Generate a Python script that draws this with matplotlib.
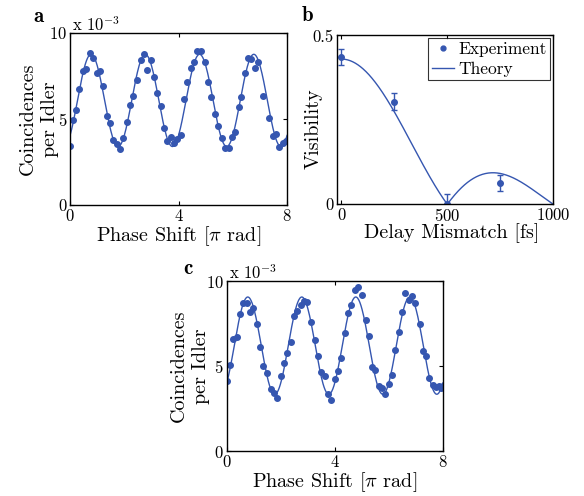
import numpy as np
import matplotlib
matplotlib.use("Agg")
import matplotlib.pyplot as plt
from matplotlib.lines import Line2D

# -------------------------------
# data
# -------------------------------
# panel a : coincidences per idler (x 1e-3) vs phase shift [pi rad]
phase_a = [0.00, 0.10, 0.22, 0.34, 0.47, 0.59, 0.74, 0.86, 0.98, 1.11, 1.20, 1.35,
           1.47, 1.60, 1.72, 1.84, 1.97, 2.09, 2.21, 2.34, 2.46, 2.61, 2.73, 2.83,
           2.97, 3.10, 3.22, 3.34, 3.47, 3.59, 3.71, 3.83, 3.96, 4.08, 4.20, 4.33,
           4.45, 4.57, 4.69, 4.84, 4.96, 5.09, 5.21, 5.33, 5.46, 5.60, 5.70, 5.85,
           5.97, 6.09, 6.22, 6.32, 6.44, 6.56, 6.69, 6.81, 6.93, 7.10, 7.32, 7.47,
           7.59, 7.72, 7.84, 7.96]
coinc_a = [3.44, 4.92, 5.51, 6.75, 7.78, 7.91, 8.82, 8.52, 7.68, 7.80, 6.93, 5.16,
           4.76, 3.78, 3.52, 3.25, 3.88, 4.80, 5.81, 6.34, 7.24, 8.43, 8.80, 7.87,
           8.41, 7.42, 6.50, 5.75, 4.49, 3.74, 3.98, 3.58, 3.82, 4.09, 6.16, 7.15,
           7.97, 8.33, 8.96, 8.96, 8.33, 7.15, 6.30, 5.31, 4.57, 3.90, 3.31, 3.31,
           3.98, 4.23, 5.71, 6.30, 7.68, 8.56, 8.46, 7.95, 8.33, 6.34, 5.08, 4.04,
           4.13, 3.35, 3.58, 3.74]
fit_a = dict(mean=6.08, amp=2.68, peak=0.775)

# panel c : second data set
phase_c = [0.00, 0.12, 0.25, 0.37, 0.49, 0.59, 0.74, 0.86, 0.99, 1.11, 1.23, 1.36,
           1.51, 1.63, 1.75, 1.88, 2.00, 2.12, 2.25, 2.37, 2.49, 2.62, 2.74, 2.86,
           2.99, 3.11, 3.26, 3.38, 3.48, 3.63, 3.75, 3.88, 4.00, 4.12, 4.25, 4.37,
           4.49, 4.62, 4.74, 4.86, 5.01, 5.14, 5.26, 5.38, 5.51, 5.63, 5.75, 5.88,
           6.00, 6.12, 6.25, 6.37, 6.49, 6.62, 6.74, 6.86, 6.99, 7.14, 7.26, 7.38,
           7.51, 7.63, 7.75, 7.85, 7.93, 8.00]
coinc_c = [4.10, 5.08, 6.57, 6.71, 8.06, 8.71, 8.71, 8.18, 8.41, 7.49, 6.14, 5.00,
           4.61, 3.65, 3.41, 3.10, 4.41, 5.18, 5.76, 6.43, 7.92, 8.24, 8.59, 8.82,
           8.75, 7.57, 6.55, 5.61, 4.63, 4.39, 3.37, 3.02, 4.25, 4.71, 5.45, 6.94,
           8.12, 8.61, 9.45, 9.65, 9.20, 7.73, 6.75, 4.94, 4.78, 3.80, 3.69, 3.37,
           3.94, 4.45, 5.92, 7.00, 8.18, 9.29, 8.90, 9.14, 8.71, 7.45, 5.88, 5.57,
           4.31, 3.86, 3.76, 3.80, 3.70, 3.80]
fit_c = dict(mean=6.20, amp=2.86, peak=0.78)

# panel b : visibility vs delay mismatch
delay_b = [0, 250, 500, 750]
vis_b = [0.435, 0.304, 0.0, 0.064]
vis_err = [0.024, 0.024, 0.03, 0.024]
theory_v0 = 0.43      # visibility at zero delay
theory_tau0 = 500.0   # first zero of the sinc envelope [fs]

BLUE = "#3556b0"
TICK_FS = 12
LABEL_FS = 14.5

plt.rcParams["font.family"] = ["cmr10", "DejaVu Serif"]
plt.rcParams["mathtext.fontset"] = "cm"
plt.rcParams["axes.formatter.use_mathtext"] = True
plt.rcParams["axes.unicode_minus"] = False

fig = plt.figure(figsize=(5.84, 4.96), dpi=100)


def style_axes(ax):
    ax.tick_params(direction="in", length=3, width=0.8, top=True, right=True,
                   labelsize=TICK_FS, pad=2)
    for s in ax.spines.values():
        s.set_linewidth(1.0)


def panel_letter(ax, x, y, s):
    ax.text(x, y, s, transform=ax.transAxes, fontsize=15, fontfamily="cmb10",
            va="bottom", ha="left")


def fringe_panel(ax, x, y, fit, ylab_x):
    xx = np.linspace(0, 8, 400)
    yy = fit["mean"] + fit["amp"] * np.cos(np.pi * (xx - fit["peak"]))
    ax.plot(xx, yy, color=BLUE, lw=1.0)
    ax.plot(x, y, "o", color=BLUE, ms=4.0, mec=BLUE)
    ax.set_xlim(0, 8)
    ax.set_ylim(0, 10)
    ax.set_xticks([0, 4, 8])
    ax.set_yticks([0, 5, 10])
    ax.set_xlabel(r"Phase Shift [$\pi$ rad]", fontsize=LABEL_FS, labelpad=0)
    ax.set_ylabel("Coincidences\nper Idler", fontsize=LABEL_FS,
                  linespacing=1.3)
    ax.yaxis.set_label_coords(ylab_x, 0.5)
    ax.text(0.01, 0.995, r"x 10$^{\mathregular{-3}}$", transform=ax.transAxes,
            fontsize=TICK_FS, va="bottom", ha="left")
    style_axes(ax)


# -------------------------------
# panel a
# -------------------------------
ax_a = fig.add_axes([0.1199, 0.5867, 0.3716, 0.3468])
fringe_panel(ax_a, phase_a, coinc_a, fit_a, -0.05)
panel_letter(ax_a, -0.17, 1.04, "a")

# -------------------------------
# panel b
# -------------------------------
ax_b = fig.add_axes([0.5765, 0.5881, 0.3709, 0.3419])
tt = np.linspace(0, 1000, 500)
ax_b.plot(tt, theory_v0 * np.abs(np.sinc(tt / theory_tau0)), color=BLUE, lw=1.0)
ax_b.errorbar(delay_b, vis_b, yerr=vis_err, fmt="o", color=BLUE, ms=4.0,
              elinewidth=1.0, capsize=2)
ax_b.set_xlim(-22, 1000)
ax_b.set_ylim(0, 0.502)
ax_b.set_xticks([0, 500, 1000])
ax_b.set_yticks([0, 0.5])
ax_b.set_yticklabels(["0", "0.5"])
ax_b.set_xlabel("Delay Mismatch [fs]", fontsize=LABEL_FS, labelpad=0)
ax_b.xaxis.set_label_coords(0.532, -0.11)
ax_b.set_ylabel("Visibility", fontsize=LABEL_FS)
ax_b.yaxis.set_label_coords(-0.063, 0.444)
panel_letter(ax_b, -0.16, 1.06, "b")
h = [Line2D([], [], marker="o", ls="none", color=BLUE, ms=3.5),
     Line2D([], [], color=BLUE, lw=1.0)]
leg = ax_b.legend(h, ["Experiment", "Theory"], loc="upper right",
                  fontsize=TICK_FS + 0.5, frameon=True, fancybox=False,
                  edgecolor="black", borderpad=0.2, handlelength=1.3,
                  handletextpad=0.2, labelspacing=0.25, borderaxespad=0.2)
leg.get_frame().set_linewidth(0.8)
style_axes(ax_b)

# -------------------------------
# panel c
# -------------------------------
ax_c = fig.add_axes([0.3882, 0.0907, 0.3699, 0.3427])
fringe_panel(ax_c, phase_c, coinc_c, fit_c, -0.077)
panel_letter(ax_c, -0.2, 1.02, "c")

fig.savefig("out.png", dpi=100)
